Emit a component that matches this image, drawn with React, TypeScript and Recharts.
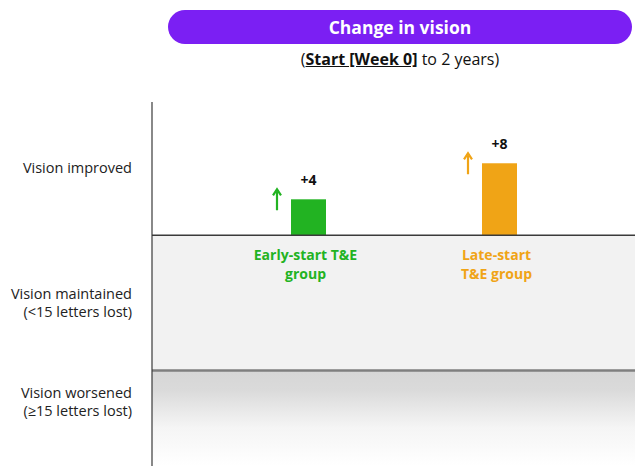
import React from "react";
import {
  Bar,
  BarChart,
  LabelList,
  ReferenceArea,
  ReferenceLine,
  XAxis,
  YAxis,
} from "recharts";

const groups = ["Early-start T&E group", "Late-start T&E group"];
const groupLines = [["Early-start T&E", "group"], ["Late-start", "T&E group"]];
const changes = [4, 8];
const changeLabels = ["+4", "+8"];
const barColors = ["#22b322", "#f0a416"];

const zoneTicks = [7.5, -7.5, -18.5];
const zoneLabels = [
  ["Vision improved"],
  ["Vision maintained", "(<15 letters lost)"],
  ["Vision worsened", "(\u226515 letters lost)"],
];

const data = groups.map((g, i) => ({ group: g, change: changes[i], idx: i }));

const FONT = "'Open Sans', sans-serif";

function ZoneTick(props: any) {
  const { x, y, payload } = props;
  const i = zoneTicks.indexOf(payload.value);
  const lines = zoneLabels[i] || [];
  const start = y - ((lines.length - 1) * 18) / 2;
  return (
    <text x={x} y={start} textAnchor="end" fontFamily={FONT} fontSize={14.5} fill="#222">
      {lines.map((l, k) => (
        <tspan key={k} x={x} y={start + k * 18} dy="0.35em">
          {l}
        </tspan>
      ))}
    </text>
  );
}

function BarShape(props: any) {
  const { x, y, width, height, index } = props;
  const c = barColors[index];
  const ax = x - 14;
  return (
    <g>
      <rect x={x} y={y} width={width} height={height} fill={c} />
      <line x1={ax} y1={y + 11} x2={ax} y2={y - 8} stroke={c} strokeWidth={2.2} />
      <path d={`M${ax - 4},${y - 4} L${ax},${y - 10} L${ax + 4},${y - 4}`} fill="none" stroke={c} strokeWidth={2.2} />
    </g>
  );
}

function BarText(props: any) {
  const { x, y, width, height, index } = props;
  const cx = x + width / 2;
  const base = y + height;
  return (
    <g fontFamily={FONT} fontWeight={700}>
      <text x={cx} y={y - 19} dy="0.35em" textAnchor="middle" fontSize={14} fill="#111">
        {changeLabels[index]}
      </text>
      {groupLines[index].map((l, k) => (
        <text key={k} x={cx - 3} y={base + 20 + k * 19} dy="0.35em" textAnchor="middle" fontSize={14} fill={barColors[index]}>
          {l}
        </text>
      ))}
    </g>
  );
}

export default function App() {
  return (
    <div style={{ position: "absolute", left: 0, top: 0, width: 635, height: 466, background: "#fff", fontFamily: FONT }}>
      <div
        style={{
          position: "absolute",
          left: 168,
          top: 10,
          width: 464,
          height: 34,
          borderRadius: 17,
          background: "#7b1ff3",
          color: "#fff",
          fontWeight: 700,
          fontSize: 17.5,
          lineHeight: "34px",
          textAlign: "center",
        }}
      >
        Change in vision
      </div>
      <div
        style={{
          position: "absolute",
          left: 168,
          top: 48,
          width: 464,
          fontSize: 16,
          lineHeight: "22px",
          textAlign: "center",
          color: "#111",
        }}
      >
        (<b style={{ textDecoration: "underline" }}>Start [Week 0]</b> to 2 years)
      </div>
      <BarChart
        width={635}
        height={466}
        data={data}
        margin={{ top: 102, right: 0, bottom: 0, left: 0 }}
        style={{ position: "absolute", left: 0, top: 0 }}
      >
        <defs>
          <linearGradient id="worseGrad" x1="0" y1="0" x2="0" y2="1">
            <stop offset="0%" stopColor="#d6d6d6" />
            <stop offset="20%" stopColor="#dadada" />
            <stop offset="60%" stopColor="#f5f5f5" />
            <stop offset="100%" stopColor="#ffffff" />
          </linearGradient>
        </defs>
        <XAxis dataKey="group" hide padding={{ left: 61, right: 40 }} />
        <XAxis xAxisId="bg" type="number" domain={[0, 1]} hide />
        <YAxis
          type="number"
          domain={[-25.6, 14.8]}
          allowDataOverflow
          ticks={zoneTicks}
          interval={0}
          width={152}
          tickLine={false}
          tickSize={0}
          tickMargin={20}
          axisLine={{ stroke: "#3a3a3a", strokeWidth: 1.2 }}
          tick={<ZoneTick />}
        />
        <ReferenceArea xAxisId="bg" x1={0} x2={1} y1={-15} y2={0} fill="#f2f2f2" fillOpacity={1} stroke="none" />
        <ReferenceArea xAxisId="bg" x1={0} x2={1} y1={-25.6} y2={-15} fill="url(#worseGrad)" fillOpacity={1} stroke="none" />
        <ReferenceLine xAxisId="bg" y={0} stroke="#3a3a3a" strokeWidth={1.5} />
        <ReferenceLine xAxisId="bg" y={-15} stroke="#7f7f7f" strokeWidth={2.5} />
        <Bar dataKey="change" barSize={35} shape={<BarShape />} isAnimationActive={false}>
          <LabelList dataKey="change" content={<BarText />} />
        </Bar>
      </BarChart>
    </div>
  );
}
